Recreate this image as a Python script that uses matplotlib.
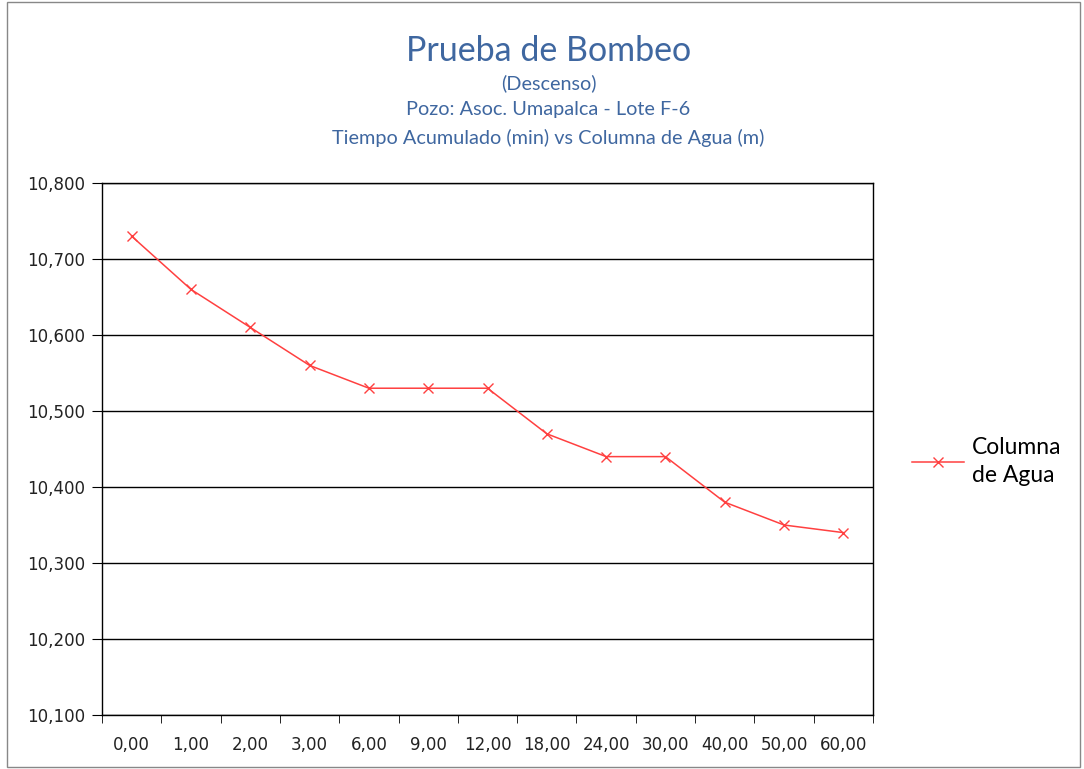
import matplotlib.pyplot as plt
from matplotlib.patches import Rectangle

# Data
tiempo = ['0,00', '1,00', '2,00', '3,00', '6,00', '9,00', '12,00',
          '18,00', '24,00', '30,00', '40,00', '50,00', '60,00']
columna_agua = [10.73, 10.66, 10.61, 10.56, 10.53, 10.53, 10.53,
                10.47, 10.44, 10.44, 10.38, 10.35, 10.34]
y_ticks = [10.1, 10.2, 10.3, 10.4, 10.5, 10.6, 10.7, 10.8]

fig = plt.figure(figsize=(10.84, 7.69), dpi=100)
ax = fig.add_axes([0.0941, 0.0702, 0.7113, 0.6918])

x = list(range(len(tiempo)))
ax.plot(x, columna_agua, color='#FF4040', marker='x', markersize=7,
        linewidth=1.1, markeredgewidth=1.0, label='Columna\nde Agua')

ax.set_xlim(-0.5, len(tiempo) - 0.5)
ax.set_ylim(10.1, 10.8)
ax.set_yticks(y_ticks)
ax.set_yticklabels([f'{v:.3f}'.replace('.', ',') for v in y_ticks],
                   family='DejaVu Sans', fontsize=12, color='#222222')
ax.set_xticks(x)
ax.set_xticklabels(tiempo, family='DejaVu Sans', fontsize=12, color='#222222')
ax.tick_params(axis='x', length=0, pad=15)
ax.set_xticks([i - 0.5 for i in range(len(tiempo) + 1)], minor=True)
ax.tick_params(axis='x', which='minor', length=6, direction='out', color='black')
ax.tick_params(axis='y', length=7, direction='out', color='black', pad=5)
ax.grid(axis='y', color='black', linewidth=1.0)
for s in ax.spines.values():
    s.set_color('black')
    s.set_linewidth(1.0)

# Titles
title_color = '#3F67A0'
cx = 0.506
fig.text(cx, 0.934, 'Prueba de Bombeo', ha='center', va='center',
         family='Lato', fontsize=24.5, color=title_color)
fig.text(cx, 0.892, '(Descenso)', ha='center', va='center',
         family='Lato', fontsize=14.3, color=title_color)
fig.text(cx, 0.857, 'Pozo: Asoc. Umapalca - Lote F-6', ha='center', va='center',
         family='Lato', fontsize=14.3, color=title_color)
fig.text(cx, 0.821, 'Tiempo Acumulado (min) vs Columna de Agua (m)', ha='center',
         va='center', family='Lato', fontsize=14.3, color=title_color)

leg = fig.legend(loc='center left', bbox_to_anchor=(0.841, 0.400), frameon=False,
                 prop={'family': 'Lato', 'size': 16.5}, handlelength=2.3,
                 handletextpad=0.35, borderpad=0.0, borderaxespad=0.0)
for t in leg.get_texts():
    t.set_linespacing(1.45)

# outer chart border
fig.patches.append(Rectangle((0.006, 0.002), 0.99, 0.995, transform=fig.transFigure,
                             fill=False, edgecolor='#888888', linewidth=1.0))

fig.savefig('out.png', dpi=100)
